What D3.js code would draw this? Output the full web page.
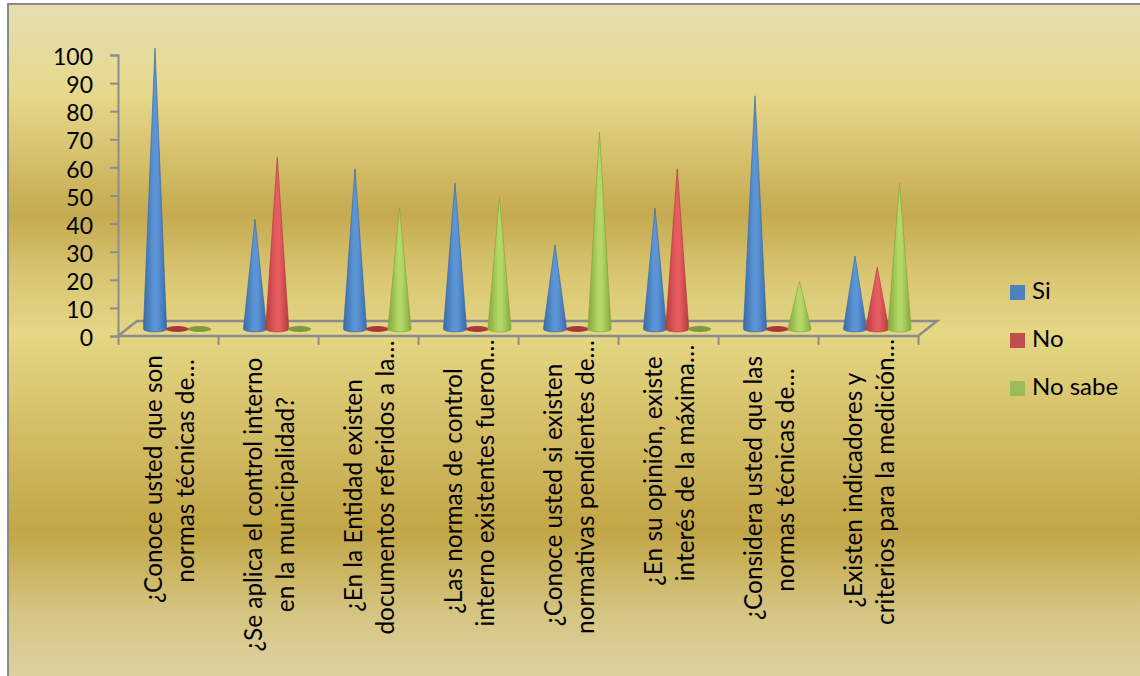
<!DOCTYPE html>
<html>
<head>
<meta charset="utf-8">
<script src="https://cdn.jsdelivr.net/npm/d3@7/dist/d3.min.js"></script>
<style>
html,body{margin:0;padding:0;background:#fff;overflow:hidden}
svg{display:block}
text{font-family:Lato,"Open Sans",sans-serif;fill:#000}
</style>
</head>
<body>
<svg id="chart" width="1140" height="676"></svg>
<script>
// Survey answers per question
const questionLines = [
  ["¿Conoce usted que son", "normas técnicas de…"],
  ["¿Se aplica el control interno", "en la municipalidad?"],
  ["¿En la Entidad existen", "documentos referidos a la…"],
  ["¿Las normas de control", "interno existentes fueron…"],
  ["¿Conoce usted si existen", "normativas pendientes de…"],
  ["¿En su opinión, existe", "interés de la máxima…"],
  ["¿Considera usted que las", "normas técnicas de…"],
  ["¿Existen indicadores y", "criterios para la medición…"]
];
const seriesNames = ["Si", "No", "No sabe"];
const siValues = [100, 39, 57, 52, 30, 43, 83, 26];
const noValues = [0, 61, 0, 0, 0, 57, 0, 22];
const noSabeValues = [0, 0, 43, 47, 70, 0, 17, 52];
const yTicks = [0, 10, 20, 30, 40, 50, 60, 70, 80, 90, 100];

const seriesValues = [siValues, noValues, noSabeValues];
const swatch = ["#4f81bd", "#c0504d", "#9bbb59"];
const shades = [
  {edge: "#3a6aa6", mid: "#5c95d6", flat: "#3f6fa8"},
  {edge: "#b33c40", mid: "#e65c60", flat: "#a8383c"},
  {edge: "#84a63c", mid: "#b4d868", flat: "#7d9a40"}
];

const svg = d3.select("#chart");
const defs = svg.append("defs");

// Layered backdrop of the chart area
const bg = defs.append("linearGradient").attr("id", "backdrop")
  .attr("x1", 0).attr("y1", 0).attr("x2", 0).attr("y2", 1);
[[0, "#e5deb2"], [0.135, "#e6d88a"], [0.31, "#c5aa50"], [0.4, "#d9c673"], [0.485, "#e5d784"],
 [0.63, "#d3bd65"], [0.775, "#c2a646"], [0.9, "#d6c684"], [1, "#ded2a4"]]
  .forEach(([o, c]) => bg.append("stop").attr("offset", o).attr("stop-color", c));

svg.append("rect").attr("x", 8).attr("y", 4).attr("width", 1140).attr("height", 680)
  .attr("fill", "url(#backdrop)").attr("stroke", "#8a8a8a").attr("stroke-width", 2);

// Horizontal shading across each cone
shades.forEach((s, i) => {
  const g = defs.append("linearGradient").attr("id", "cone" + i)
    .attr("x1", 0).attr("y1", 0).attr("x2", 1).attr("y2", 0);
  [[0, s.edge], [0.45, s.mid], [0.6, s.mid], [1, s.edge]]
    .forEach(([o, c]) => g.append("stop").attr("offset", o).attr("stop-color", c));
});

// Scales: the front edge of the floor carries the axes
const frontLeft = 118, frontRight = 918, frontY = 336;
const depthX = 19, depthY = 15;
const x = d3.scaleBand().domain(d3.range(questionLines.length)).range([frontLeft, frontRight]);
const xEdges = d3.scaleLinear().domain([0, questionLines.length]).range([frontLeft, frontRight]);
const y = d3.scaleLinear().domain([0, 100]).range([frontY, 55]);
const inBand = d3.scalePoint().domain(d3.range(seriesNames.length)).range([37, 81.5]);

const axisColor = "#8c8c8c";
const baseLift = 7;
const coneHalf = 11.6, coneRy = 3;

// Floor of the plot
svg.append("path")
  .attr("d", d3.line()([[frontLeft, frontY], [frontLeft + depthX, frontY - depthY],
    [frontRight + depthX, frontY - depthY], [frontRight, frontY], [frontLeft, frontY]]))
  .attr("fill", "none").attr("stroke", axisColor).attr("stroke-width", 2.5);

// Value axis
const yAxis = svg.append("g").attr("transform", `translate(${frontLeft},0)`)
  .call(d3.axisLeft(y).tickValues(yTicks).tickSize(8).tickPadding(17).tickFormat(d3.format("d")));
yAxis.selectAll("line,path").attr("stroke", axisColor).attr("stroke-width", 2);
yAxis.selectAll("text").attr("font-size", 23).attr("dy", "0.42em")
  .style("font-family", "Lato,'Open Sans',sans-serif").attr("fill", "#000");

// Category ticks along the front edge
const xAxis = svg.append("g").attr("transform", `translate(0,${frontY})`)
  .call(d3.axisBottom(xEdges).ticks(questionLines.length).tickSize(9).tickFormat(""));
xAxis.select("path").remove();
xAxis.selectAll("line").attr("stroke", axisColor).attr("stroke-width", 2);

// Cones, or a flat disc where the answer is zero
const base = y(0) - baseLift;
const conePath = v => {
  const tip = y(v) - baseLift;
  return `M${-coneHalf},${base}L0,${tip}L${coneHalf},${base}` +
    `A${coneHalf},${coneRy} 0 0 1 ${-coneHalf},${base}Z`;
};
const marks = seriesNames.flatMap((name, s) =>
  seriesValues[s].map((v, i) => ({s, i, v})));
const cone = svg.append("g").selectAll("g").data(marks).join("g")
  .attr("transform", d => `translate(${x(d.i) + inBand(d.s)},0)`);
cone.filter(d => d.v > 0).append("path")
  .attr("d", d => conePath(d.v))
  .attr("fill", d => `url(#cone${d.s})`)
  .attr("stroke", d => shades[d.s].edge)
  .attr("stroke-width", 0.8).attr("stroke-linejoin", "round").attr("stroke-opacity", 0.85);
cone.filter(d => d.v === 0).append("ellipse")
  .attr("cy", base).attr("rx", coneHalf).attr("ry", coneRy)
  .attr("fill", d => shades[d.s].flat);

// Rotated, two-line question labels; wrapped text sits at its own height per question
const labelMidY = [479, 504.5, 495.5, 491, 495, 471, 488, 490];
const labelSize = 24.4, lineOffsets = [-6, 25.5];
const labels = svg.append("g").selectAll("g").data(questionLines).join("g");
labels.each(function(lines, i) {
  const g = d3.select(this);
  const cx = x(i) + x.bandwidth() / 2;
  lines.forEach((line, k) => {
    const shift = line.endsWith("…") ? -8 : 0;
    g.append("text")
      .attr("font-size", labelSize).attr("text-anchor", "middle").text(line)
      .attr("transform", `translate(${cx + lineOffsets[k]},${labelMidY[i] + shift}) rotate(-90)`);
  });
});

// Legend
const legend = svg.append("g").selectAll("g").data(seriesNames).join("g")
  .attr("transform", (d, i) => `translate(1010,${285 + i * 48})`);
legend.append("rect").attr("width", 15).attr("height", 15).attr("fill", (d, i) => swatch[i]);
legend.append("text").attr("x", 22).attr("y", 14).attr("font-size", 24).text(d => d);
</script>
</body>
</html>
